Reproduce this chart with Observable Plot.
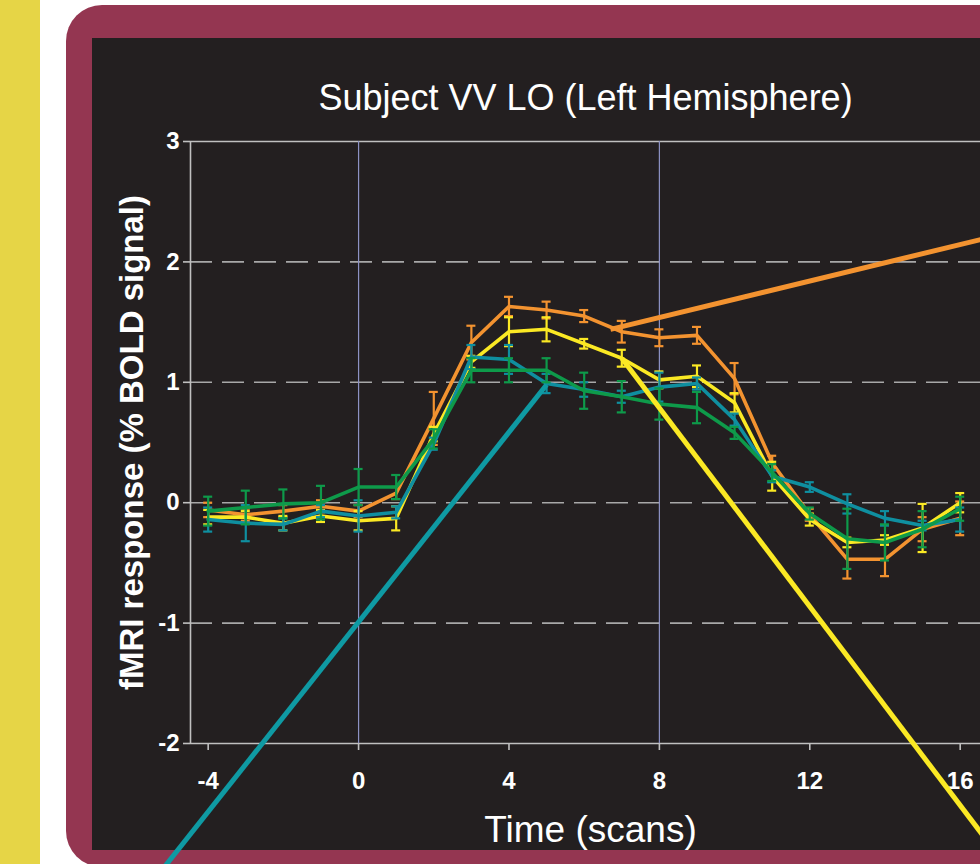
<!DOCTYPE html>
<html><head><meta charset="utf-8">
<script src="https://cdn.jsdelivr.net/npm/d3@7"></script>
<script src="https://cdn.jsdelivr.net/npm/@observablehq/plot@0.6"></script>
<style>
html,body{margin:0;padding:0;background:#fff;width:980px;height:864px;overflow:hidden;position:relative;font-family:"Liberation Sans",Arial,sans-serif}
#strip{position:absolute;left:0;top:0;width:40px;height:864px;background:#e6d546}
#frame{position:absolute;left:66px;top:5px;width:960px;height:862px;background:#943651;border-radius:36px}
#panel{position:absolute;left:92px;top:38px;width:950px;height:812px;background:#231f20}
#chart{position:absolute;left:0;top:0}
</style></head><body>
<div id="strip"></div><div id="frame"></div><div id="panel"></div><div id="chart"></div>
<script>
const title = "Subject VV LO (Left Hemisphere)";
const xLabel = "Time (scans)";
const yLabel = "fMRI response (% BOLD signal)";
const xTicks = [-4, 0, 4, 8, 12, 16];
const yTicks = [-2, -1, 0, 1, 2, 3];
const xDomain = [-4.47, 16.54];
const yDomain = [-2, 3];
const dashedGrid = [2, 1, 0, -1];
const solidGrid = [3, -2];
const verticalGrid = [0, 8];

const times = [-4,-3,-2,-1,0,1,2,3,4,5,6,7,8,9,10,11,12,13,14,15,16];
const orangeVals = [-0.06,-0.1,-0.07,-0.03,-0.07,0.08,0.7,1.33,1.63,1.6,1.55,1.42,1.37,1.39,1.03,0.33,-0.1,-0.47,-0.47,-0.22,-0.13];
const orangeErr  = [0.06,0.05,0.05,0.05,0.05,0.05,0.22,0.14,0.08,0.07,0.05,0.09,0.07,0.07,0.13,0.06,0.05,0.16,0.14,0.1,0.14];
const yellowVals = [-0.12,-0.12,-0.17,-0.11,-0.15,-0.13,0.57,1.17,1.42,1.44,1.32,1.2,1.02,1.05,0.83,0.22,-0.14,-0.33,-0.31,-0.21,0.0];
const yellowErr  = [0.06,0.05,0.06,0.05,0.08,0.1,0.06,0.05,0.12,0.1,0.04,0.07,0.07,0.09,0.08,0.12,0.05,0.04,0.04,0.2,0.08];
const tealVals   = [-0.14,-0.17,-0.18,-0.07,-0.11,-0.08,0.49,1.21,1.19,0.99,0.94,0.88,0.96,0.99,0.69,0.22,0.13,-0.01,-0.13,-0.19,-0.14];
const tealErr    = [0.1,0.15,0.05,0.05,0.13,0.05,0.05,0.1,0.12,0.08,0.06,0.05,0.12,0.05,0.05,0.05,0.04,0.08,0.06,0.04,0.1];
const greenVals  = [-0.07,-0.04,-0.01,0.0,0.13,0.13,0.53,1.1,1.1,1.1,0.93,0.88,0.82,0.79,0.58,0.25,-0.09,-0.3,-0.33,-0.22,-0.05];
const greenErr   = [0.12,0.14,0.12,0.14,0.15,0.1,0.08,0.1,0.1,0.1,0.15,0.13,0.13,0.13,0.05,0.07,0.05,0.25,0.15,0.15,0.1];

const seriesNames  = ["orange", "yellow", "teal", "green"];
const seriesColors = ["#f39330", "#fbe924", "#0f8fa0", "#0e9a4a"];
const seriesValues = [orangeVals, yellowVals, tealVals, greenVals];
const seriesErrors = [orangeErr, yellowErr, tealErr, greenErr];

// callout pointer lines (data units): start and end
const calloutColors = ["#f39330", "#fbe924", "#0f9aa3"];
const calloutX1 = [6.7, 7.0, 5.0];
const calloutY1 = [1.44, 1.2, 0.98];
const calloutX2 = [17.0, 17.3, -5.15];
const calloutY2 = [2.22, -3.05, -3.02];

const capHalf = 0.12;
const marks = [
  Plot.ruleY(dashedGrid, {stroke: "#a8a8a8", strokeWidth: 1.6, strokeDasharray: "22,10"}),
  Plot.ruleY(solidGrid, {stroke: "#c0c0c0", strokeWidth: 1.6}),
  Plot.ruleX(verticalGrid, {stroke: "#8d92c4", strokeWidth: 1.2}),
  Plot.ruleX([xDomain[0]], {stroke: "#c0c0c0", strokeWidth: 1.6}),
  Plot.axisX({ticks: xTicks, tickFormat: d => String(d), tickSize: 7, tickPadding: 21, stroke: "#c0c0c0", strokeWidth: 1.6, fill: "white", fontSize: 24, fontWeight: "bold", label: null}),
  Plot.axisY({ticks: yTicks, tickFormat: d => String(d), tickSize: 7, tickPadding: 4, stroke: "#c0c0c0", strokeWidth: 1.6, fill: "white", fontSize: 24, fontWeight: "bold", label: null})
];

seriesNames.forEach((name, i) => {
  const rows = times.map((t, j) => ({t, v: seriesValues[i][j], e: seriesErrors[i][j], s: name}));
  const c = seriesColors[i];
  marks.push(
    Plot.ruleX(rows, {x: "t", y1: d => d.v - d.e, y2: d => d.v + d.e, stroke: c, strokeWidth: 2.2}),
    Plot.ruleY(rows, {y: d => d.v + d.e, x1: d => d.t - capHalf, x2: d => d.t + capHalf, stroke: c, strokeWidth: 2.2}),
    Plot.ruleY(rows, {y: d => d.v - d.e, x1: d => d.t - capHalf, x2: d => d.t + capHalf, stroke: c, strokeWidth: 2.2}),
    Plot.line(rows, {x: "t", y: "v", stroke: c, strokeWidth: 3.6})
  );
});

calloutColors.forEach((c, i) => {
  marks.push(Plot.link([i], {x1: () => calloutX1[i], y1: () => calloutY1[i], x2: () => calloutX2[i], y2: () => calloutY2[i], stroke: c, strokeWidth: 5}));
});

marks.push(
  Plot.text([title], {text: d => d, frameAnchor: "top", textAnchor: "middle", lineAnchor: "middle", dy: -43, fontSize: 36, fill: "white"}),
  Plot.text([xLabel], {text: d => d, frameAnchor: "bottom", textAnchor: "middle", lineAnchor: "middle", dx: 5, dy: 87, fontSize: 37, fill: "white"}),
  Plot.text([yLabel], {text: d => d, frameAnchor: "left", textAnchor: "middle", lineAnchor: "middle", rotate: -90, dx: -58, fontSize: 33, fontWeight: "bold", fill: "white"})
);

const chart = Plot.plot({
  width: 980, height: 864,
  marginLeft: 190, marginRight: 0, marginTop: 141, marginBottom: 121,
  x: {domain: xDomain},
  y: {domain: yDomain},
  style: {background: "transparent", overflow: "visible", fontFamily: "'Liberation Sans', Arial, sans-serif", color: "white"},
  marks
});
document.getElementById("chart").appendChild(chart);
</script>
</body></html>
